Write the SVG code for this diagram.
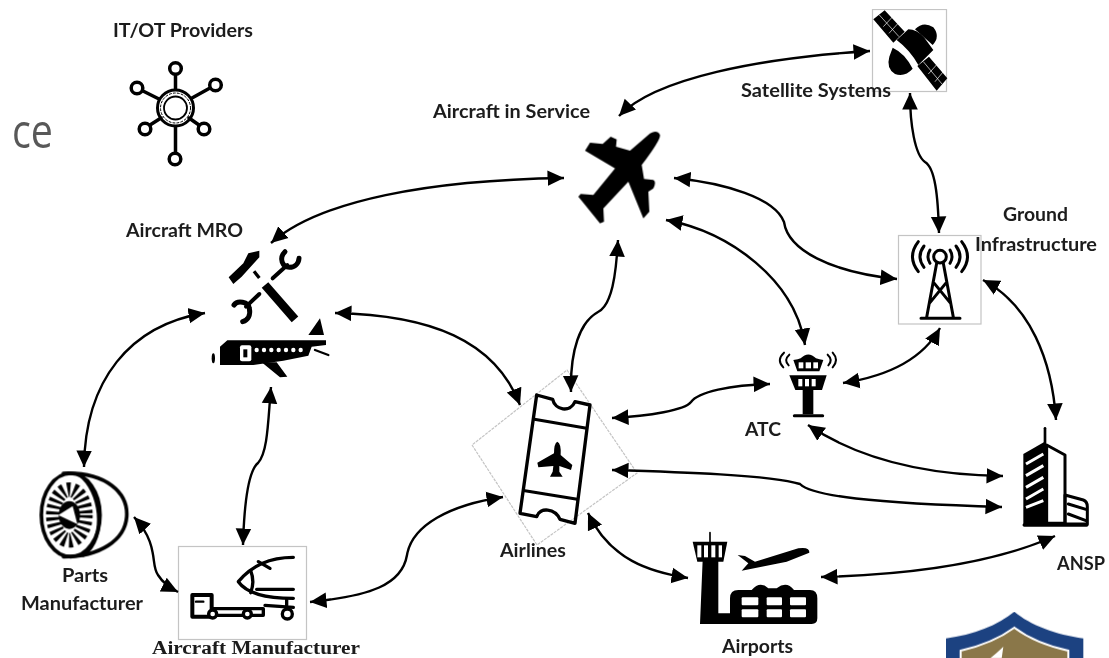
<svg xmlns="http://www.w3.org/2000/svg" width="1109" height="658" viewBox="0 0 1109 658">
<defs>
<marker id="ah" markerUnits="userSpaceOnUse" markerWidth="18" markerHeight="18" viewBox="0 0 18 18" refX="16.5" refY="9" orient="auto-start-reverse"><path d="M0,1.2 L16.5,9 L0,16.8 Z" fill="#000"/></marker>
<filter id="soft" x="0" y="0" width="100%" height="100%"><feGaussianBlur stdDeviation="0.45"/></filter>
</defs>
<style>
.c{fill:none;stroke:#000;stroke-width:2.4;marker-start:url(#ah);marker-end:url(#ah)}
.t{font-family:"Lato","Open Sans",sans-serif;font-weight:700;font-size:18px;fill:#1c1c1c}
.s{font-family:"Liberation Serif",serif;font-weight:700;font-size:18px;fill:#1c1c1c}
.box{fill:#fff;stroke:#c4c4c4;stroke-width:1.2}
.z{transform:scale(.33333)}
.k{fill:#000}
.l{fill:none;stroke:#000;stroke-linecap:round;stroke-linejoin:round}
.w{fill:#fff}
.wl{fill:none;stroke:#fff}
</style>
<rect width="1109" height="658" fill="#fff"/>
<g filter="url(#soft)">
<text x="12" y="148" textLength="41" lengthAdjust="spacingAndGlyphs" font-family="Open Sans, sans-serif" font-size="47" fill="#595959">ce</text>

<g id="node-itot">
<text class="t" x="113" y="37" textLength="140" lengthAdjust="spacingAndGlyphs">IT/OT Providers</text>
<g class="l" stroke-width="3.5" fill="none">
<circle cx="175.5" cy="108" r="18" fill="#fff" stroke-width="3"/><circle cx="175.5" cy="108" r="11.5" stroke-width="1.8"/>
<circle cx="175.5" cy="108" r="15" stroke-width="1" stroke-dasharray="2 2"/>
<circle cx="175.5" cy="68.5" r="5.8"/><circle cx="215.5" cy="85" r="5.8"/><circle cx="137" cy="88" r="5.8"/>
<circle cx="145" cy="129" r="5.8"/><circle cx="204" cy="129" r="5.8"/><circle cx="175" cy="159" r="5.8"/>
<path d="M175.5,75V89M210,88L192,98M143,91L159,99M150,125L161,118M199,125L189,118M175.5,127V152"/>
</g>
</g>

<g id="node-service">
<text class="t" x="433" y="118" textLength="157" lengthAdjust="spacingAndGlyphs">Aircraft in Service</text>
<g transform="translate(420,80)"><g class="z">
<path class="k" d="M690,160 Q712,148 720,165 Q722,180 665,255 L672,297 L700,300 Q710,305 700,325 L685,335 L688,395 L670,415 L625,305 L550,385 L552,425 L540,430 L475,350 L482,342 L520,345 L585,265 L495,212 L510,188 L548,192 L572,170 L590,178 L588,200 L630,212 Z"/>
</g></g>
</g>

<g id="node-satellite">
<rect class="box" x="872.5" y="9.5" width="74" height="82"/>
<g transform="translate(740,0)"><g class="z">
<path class="k" d="M400,58 L434,31 L494,95 L460,128 Z M532,198 L567,170 L622,235 L590,272 Z"/>
<path class="wl" stroke-width="2" d="M418,45 L477,110 M430,80 L460,48 M447,100 L476,68 M550,185 L606,252 M565,222 L592,192 M585,245 L610,215"/>
<path class="k" d="M470,120 L505,88 Q530,88 552,112 L580,150 L535,195 Q510,150 470,120 Z"/>
<path class="k" d="M525,88 Q550,62 580,82 Q602,110 578,135 Z M458,143 Q495,160 518,206 Q495,232 465,222 Q438,205 448,170 Z"/>
</g></g>
<text class="t" x="741" y="97" textLength="150" lengthAdjust="spacingAndGlyphs">Satellite Systems</text>
</g>

<g id="node-ground">
<rect class="box" x="898.5" y="235.5" width="82.5" height="88.5"/>
<text class="t" x="1003" y="221" textLength="65" lengthAdjust="spacingAndGlyphs">Ground</text>
<text class="t" x="975" y="251" textLength="122" lengthAdjust="spacingAndGlyphs">Infrastructure</text>
<g transform="translate(740,0)"><g class="z"><g class="l" stroke-width="9">
<circle cx="600" cy="770" r="19"/>
<path d="M590,790 L560,952 M610,790 L640,952 M543,955 H660 M583,850 L632,910 M617,850 L568,910"/>
<path d="M535,725 Q500,770 535,815 M552,738 Q528,770 552,802 M570,750 Q558,770 570,790 M630,750 Q642,770 630,790 M648,738 Q672,770 648,802 M665,725 Q700,770 665,815"/>
</g></g></g>
</g>

<g id="node-mro">
<text class="t" x="126" y="237" textLength="117" lengthAdjust="spacingAndGlyphs">Aircraft MRO</text>
<g class="z">
<path class="k" d="M686,832 L700,852 L725,830 L778,772 L778,752 L745,760 L730,790 Z"/>
<g class="l">
<path stroke-width="10" d="M762,814 L778,834" style="stroke-linecap:butt"/>
<path stroke-width="26" d="M795,855 L885,958" style="stroke-linecap:butt"/>
<path stroke-width="12" d="M818,835 L862,795 M778,882 L738,920"/>
<path stroke-width="15" d="M855,755 C835,775 848,802 868,802 C885,802 896,790 897,775"/>
<path stroke-width="15" d="M702,915 C712,900 745,905 748,925 C752,945 745,960 728,965"/>
</g>
</g>
<g transform="translate(0,330)"><g class="z">
<path class="k" d="M660,50 L682,31 L978,31 L978,45 L935,50 L925,77 L850,92 L760,105 L660,105 Z"/>
<path class="k" d="M925,15 L960,-35 L972,15 Z M785,97 L830,97 L862,140 L840,142 Z"/>
<ellipse class="k" cx="640" cy="85" rx="5" ry="15"/>
<path class="l" stroke-width="7" d="M945,60 L985,75"/>
<rect x="720" y="46" width="34" height="48" rx="6" class="w"/><rect x="730" y="58" width="12" height="24" class="k"/>
<g class="w"><circle cx="770" cy="60" r="6.5"/><circle cx="792" cy="60" r="6.5"/><circle cx="814" cy="60" r="6.5"/><circle cx="836" cy="60" r="6.5"/><circle cx="858" cy="60" r="6.5"/><circle cx="880" cy="60" r="6.5"/><circle cx="902" cy="60" r="6.5"/></g>
</g></g>
</g>

<g id="node-parts">
<g transform="translate(0,330)"><g class="z">
<g class="l" stroke-width="11">
<path d="M190,430 C320,425 385,490 380,560 C375,630 300,680 190,680"/>
<ellipse cx="212" cy="555" rx="88" ry="125"/>
<path d="M240,435 C300,480 325,620 250,675"/>
</g>
<ellipse cx="208" cy="555" rx="48" ry="76" fill="none" stroke="#000" stroke-width="44" stroke-dasharray="9 9"/>
<ellipse cx="208" cy="555" rx="32" ry="42" class="k"/>
<path class="w" d="M175,555 L218,528 L232,582 Z"/>
</g></g>
<text class="t" x="62" y="582" textLength="46" lengthAdjust="spacingAndGlyphs">Parts</text>
<text class="t" x="21" y="610" textLength="122" lengthAdjust="spacingAndGlyphs">Manufacturer</text>
</g>

<g id="node-manufacturer">
<rect class="box" x="178.5" y="546.5" width="128" height="93"/>
<g transform="translate(0,330)"><g class="z"><g class="l" stroke-width="10">
<path d="M880,682 C820,682 760,700 715,755 C740,790 800,805 880,805"/>
<path d="M752,722 Q765,755 752,788 M775,695 L810,715 M770,778 H880 M860,810 V838 M795,826 L880,832"/>
<rect x="577" y="795" width="58" height="65" stroke-width="12"/>
<path d="M588,815 H610" stroke-width="7"/>
<rect x="640" y="836" width="150" height="20" stroke-width="10"/>
<circle cx="638" cy="852" r="12" fill="#fff"/><circle cx="742" cy="852" r="12" fill="#fff"/><circle cx="862" cy="852" r="15" fill="#fff"/>
</g></g></g>
<text class="s" x="152" y="654" textLength="208" lengthAdjust="spacingAndGlyphs">Aircraft Manufacturer</text>
</g>

<g id="node-airlines">
<path class="box" d="M567,370 L637,473 L537,545 L472,445 Z" stroke-dasharray="3 1"/>
<g transform="translate(440,360)"><g class="z">
<path class="l" stroke-width="10" fill="#fff" d="M290,105 L338,118 C345,150 390,160 405,125 L450,135 L405,490 L360,478 C345,445 300,440 290,470 L240,460 Z"/>
<path class="l" stroke-width="9" d="M283,178 L440,205 M255,392 L412,418"/>
<path class="k" d="M352,245 Q364,250 362,285 L397,315 L393,330 L358,318 L358,335 L368,350 L330,350 L338,335 L340,318 L295,322 L292,308 L342,280 Q342,250 352,245 Z"/>
</g></g>
<text class="t" x="500" y="557" textLength="66" lengthAdjust="spacingAndGlyphs">Airlines</text>
</g>

<g id="node-atc">
<g transform="translate(740,330)"><g class="z">
<g class="l" stroke-width="6">
<path d="M132,68 Q108,90 130,112 M148,74 Q130,90 146,106 M278,68 Q298,90 278,112 M263,74 Q280,90 265,106"/>
</g>
<path class="k" d="M160,90 Q175,88 182,85 Q205,62 228,85 Q238,88 250,90 L238,124 H172 Z"/>
<g class="w"><rect x="176" y="97" width="14" height="18"/><rect x="197" y="97" width="16" height="18"/><rect x="220" y="97" width="14" height="18"/></g>
<path class="k" d="M148,136 H260 L246,180 H166 Z"/>
<g class="w"><rect x="175" y="147" width="12" height="22"/><rect x="195" y="147" width="12" height="22"/><rect x="215" y="147" width="12" height="22"/></g>
<rect class="k" x="188" y="178" width="32" height="75"/>
<path class="l" stroke-width="9" d="M163,257 H248"/>
</g></g>
<text class="t" x="745" y="436" textLength="36" lengthAdjust="spacingAndGlyphs">ATC</text>
</g>

<g id="node-airports">
<g transform="translate(440,360)"><g class="z">
<path class="l" stroke-width="5" d="M810,518 V548"/>
<path class="k" d="M758,545 H862 L850,605 H772 Z"/>
<g class="w"><rect x="772" y="556" width="12" height="36"/><rect x="792" y="556" width="12" height="36"/><rect x="814" y="556" width="12" height="36"/><rect x="836" y="556" width="10" height="36"/></g>
<path class="k" d="M788,600 H835 V760 H870 V715 Q870,690 895,690 H935 Q960,662 985,685 H1010 Q1040,662 1062,690 H1110 Q1132,690 1132,715 V775 Q1132,792 1115,792 H780 Z"/>
<g class="w"><rect x="905" y="712" width="50" height="24" rx="3"/><rect x="980" y="712" width="46" height="24" rx="3"/><rect x="1050" y="712" width="48" height="24" rx="3"/><rect x="905" y="748" width="50" height="24" rx="3"/><rect x="980" y="748" width="46" height="24" rx="3"/><rect x="1050" y="748" width="48" height="24" rx="3"/></g>
<path class="k" d="M893,585 L915,588 L945,605 L1075,565 Q1110,560 1108,578 L1040,605 L905,632 L925,610 Z"/>
</g></g>
<text class="t" x="722" y="653" textLength="71" lengthAdjust="spacingAndGlyphs">Airports</text>
</g>

<g id="node-ansp">
<g transform="translate(740,330)"><g class="z">
<path class="l" stroke-width="8" d="M915,295 V345"/>
<path class="k" d="M850,372 L918,333 V585 H850 Z"/>
<path class="wl" stroke-width="9" d="M858,402 L910,372 M858,437 L910,407 M858,472 L910,442 M858,507 L910,477 M858,532 L910,512"/>
<path class="l" stroke-width="9" fill="#fff" d="M920,345 L975,375 V580 H920 Z"/>
<path class="l" stroke-width="9" fill="#fff" d="M975,495 L1030,510 Q1042,515 1042,530 V582 H975 Z"/>
<path class="l" stroke-width="9" d="M985,522 L1038,538 M985,552 L1038,572"/>
<path class="l" stroke-width="11" d="M853,585 H1040"/>
</g></g>
<text class="t" x="1057" y="570" textLength="48" lengthAdjust="spacingAndGlyphs">ANSP</text>
</g>

<g id="connectors">
<path class="c" d="M619,116 C655,78 760,58 870,51"/>
<path class="c" d="M271,243 C320,200 430,180 564,178"/>
<path class="c" d="M674,178 C725,183 775,198 784,222 C788,250 830,272 897,279"/>
<path class="c" d="M666,220 C730,232 795,280 805,345"/>
<path class="c" d="M910,93 C910,125 915,155 925,162 C935,168 938,195 939,233"/>
<path class="c" d="M940,328 C925,355 895,375 843,383"/>
<path class="c" d="M983,280 C1030,305 1052,360 1056,420"/>
<path class="c" d="M808,425 C860,460 930,475 1003,476"/>
<path class="c" d="M612,470 C680,472 770,475 800,484 C812,496 870,503 1002,507"/>
<path class="c" d="M612,418 C650,416 685,410 691,402 C698,392 730,385 770,384"/>
<path class="c" d="M571,392 C570,350 580,322 598,312 C612,305 616,275 618,240"/>
<path class="c" d="M335,313 C430,315 495,340 520,405"/>
<path class="c" d="M588,513 C610,560 650,572 688,578"/>
<path class="c" d="M821,577 C900,575 990,565 1055,536"/>
<path class="c" d="M310,602 C370,596 402,585 407,555 C412,525 450,505 503,497"/>
<path class="c" d="M271,387 C268,420 268,452 258,463 C247,472 244,510 243,545"/>
<path class="c" d="M205,313 C130,325 85,380 84,467"/>
<path class="c" d="M134,517 C160,545 150,565 158,575 C163,583 170,588 178,592"/>
</g>

<g transform="translate(740,330)"><g class="z">
<path d="M823,845 C870,885 950,915 1030,925 V990 H618 V925 C700,915 775,885 823,845 Z" fill="#1f4381"/>
<path d="M823,893 C870,928 930,950 985,962 V990 H662 V962 C715,950 775,928 823,893 Z" fill="#8a7748" stroke="#fff" stroke-width="6"/>
<path d="M750,985 Q770,970 790,950 L785,985 Z" fill="#fff"/>
</g></g>
</g>
</svg>
